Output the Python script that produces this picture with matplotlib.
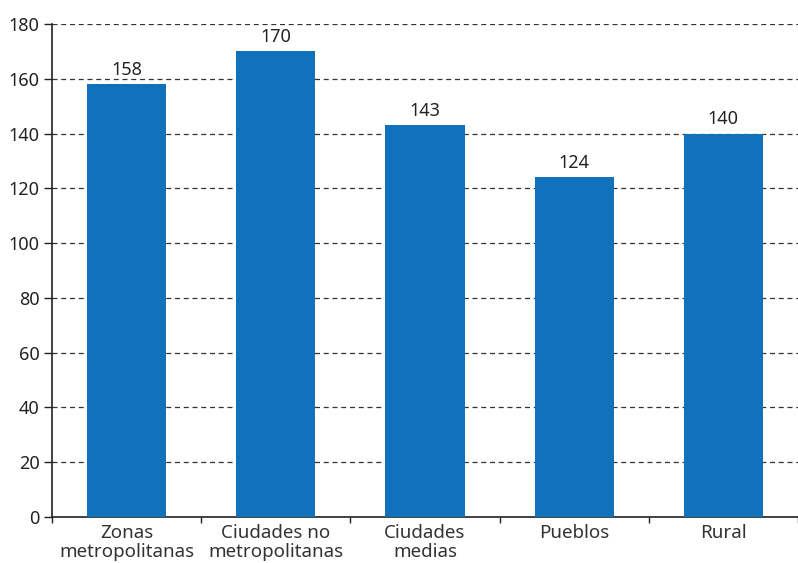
import matplotlib
matplotlib.use("Agg")
import matplotlib.pyplot as plt

categories = ["Zonas\nmetropolitanas", "Ciudades no\nmetropolitanas", "Ciudades\nmedias", "Pueblos", "Rural"]
values = [158, 170, 143, 124, 140]
yticks = [0, 20, 40, 60, 80, 100, 120, 140, 160, 180]

plt.rcParams['font.family'] = ['Noto Sans', 'DejaVu Sans']

fig = plt.figure(figsize=(7.98, 5.63), dpi=100)
ax = fig.add_axes([0.0652, 0.0817, 0.9348, 0.8757])

x = range(len(categories))
ax.bar(x, values, width=0.53, color="#1172bb", zorder=3)
for xi, v in zip(x, values):
    ax.text(xi, v + 2.0, str(v), ha="center", va="bottom", fontsize=13, color="#222222")

ax.set_ylim(0, 180)
ax.set_xlim(-0.5, 4.465)
ax.set_yticks(yticks)
ax.set_yticklabels([str(t) for t in yticks], fontsize=13, color="#222222")
ax.yaxis.grid(True, linestyle=(0, (4, 3)), color="#333333", linewidth=0.9, zorder=0)
ax.set_xticks(x)
ax.set_xticklabels(categories, fontsize=13.5, color="#333333", linespacing=1.1)
ax.tick_params(axis="x", length=0, pad=5)
ax.tick_params(axis="y", length=6, width=1, color="#222222", direction="out", pad=3)

# category boundary ticks on the x axis
ax.set_xticks([i - 0.5 for i in range(len(categories) + 1)], minor=True)
ax.tick_params(axis="x", which="minor", length=4, width=1, color="#222222", direction="out")

for s in ["top", "right"]:
    ax.spines[s].set_visible(False)
ax.spines["left"].set_color("#222222")
ax.spines["bottom"].set_color("#222222")
ax.spines["left"].set_linewidth(1.2)
ax.spines["bottom"].set_linewidth(1.2)

fig.savefig("out.png", dpi=100)
